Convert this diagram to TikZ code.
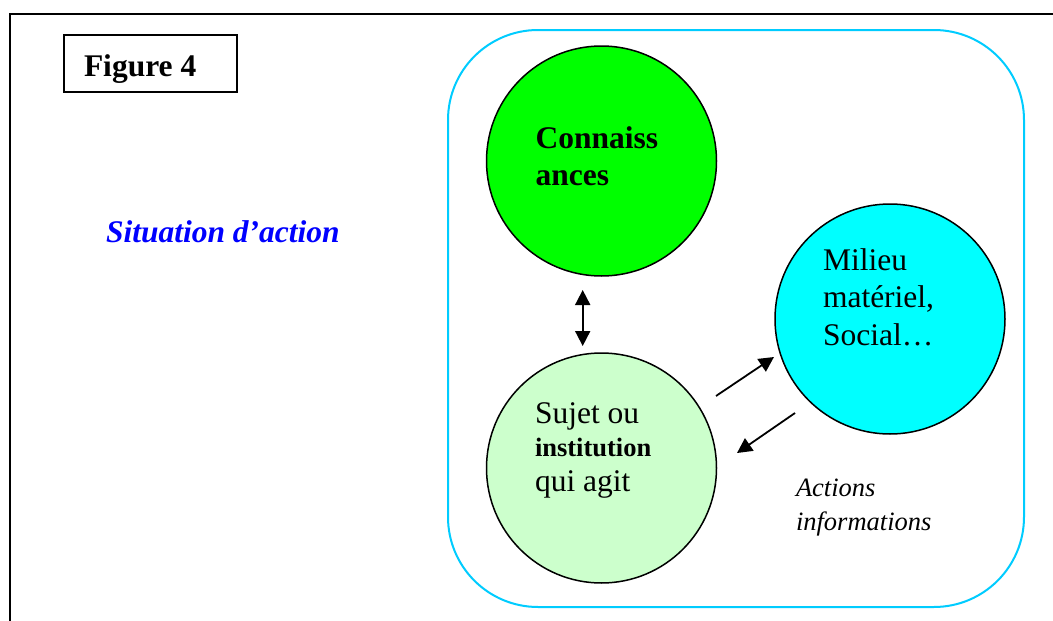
\documentclass[tikz,border=0pt]{standalone}
\usepackage{fontspec}
\setmainfont{Liberation Serif}
\usetikzlibrary{arrows.meta}
\definecolor{frameblue}{RGB}{0,204,255}
\definecolor{knowgreen}{RGB}{0,255,0}
\definecolor{paleg}{RGB}{204,255,204}
\definecolor{cyanc}{RGB}{0,255,255}
\definecolor{sitblue}{RGB}{0,0,255}
\tikzset{
  bubble/.style={circle, draw=black, line width=1.5pt, minimum size=230pt, inner sep=0pt},
  txt/.style={anchor=base west, inner sep=0pt, outer sep=0pt},
  big/.style={font=\fontsize{31.5}{36}\selectfont},
  bigbold/.style={font=\fontsize{31.5}{36}\selectfont\bfseries},
  smallbold/.style={font=\fontsize{26.5}{30}\selectfont\bfseries},
  smallit/.style={font=\fontsize{26.5}{30}\selectfont\itshape},
  link/.style={line width=1.8pt, -{Triangle[length=15pt,width=15pt]}},
}
\begin{document}
\begin{tikzpicture}[x=1pt,y=-1pt]
\useasboundingbox (0,0) rectangle (1053,621);
\fill[white] (0,0) rectangle (1053,621);
% outer frame (top and left visible)
\draw[line width=2pt] (1053,14) -- (10,14) -- (10,621);
% title box
\node[draw=black, line width=1.5pt, minimum width=173pt, minimum height=57pt, inner sep=0pt] (fig) at (150.5,63.5) {};
\node[txt, bigbold] (figt) at (84,76) {Figure 4};
% situation label
\node[txt, text=sitblue, font=\fontsize{31.5}{36}\selectfont\bfseries\itshape] (sit) at (106,242.7) {Situation d’action};
% rounded frame
\draw[frameblue, line width=2pt, rounded corners=90pt] (448,30) rectangle (1024,607);
% circles
\node[bubble, fill=knowgreen] (conn) at (601.5,161) {};
\node[bubble, fill=paleg] (suj) at (601.5,468) {};
\node[bubble, fill=cyanc] (mil) at (890,319) {};
% texts
\node[txt, bigbold] (c1) at (535.7,148.3) {Connaiss};
\node[txt, bigbold] (c2) at (535.7,185) {ances};
\node[txt, big] (m1) at (823,270.7) {Milieu};
\node[txt, big] (m2) at (823,307) {matériel,};
\node[txt, big] (m3) at (823,345) {Social…};
\node[txt, big] (s1) at (535,423.3) {Sujet ou};
\node[txt, smallbold] (s2) at (535,456) {institution};
\node[txt, big] (s3) at (535,491.7) {qui agit};
\node[txt, smallit] (a1) at (796,496.7) {Actions};
\node[txt, smallit] (a2) at (796,530) {informations};
% arrows
\coordinate (v1) at (582.7,290);
\coordinate (v2) at (582.7,346);
\draw[link, {Triangle[length=15pt,width=15pt]}-{Triangle[length=15pt,width=15pt]}] (v1) -- (v2);
\coordinate (p1) at (716,396);
\coordinate (p2) at (774,357);
\draw[link] (p1) -- (p2);
\coordinate (q1) at (795,413);
\coordinate (q2) at (737,453);
\draw[link] (q1) -- (q2);
\end{tikzpicture}
\end{document}
